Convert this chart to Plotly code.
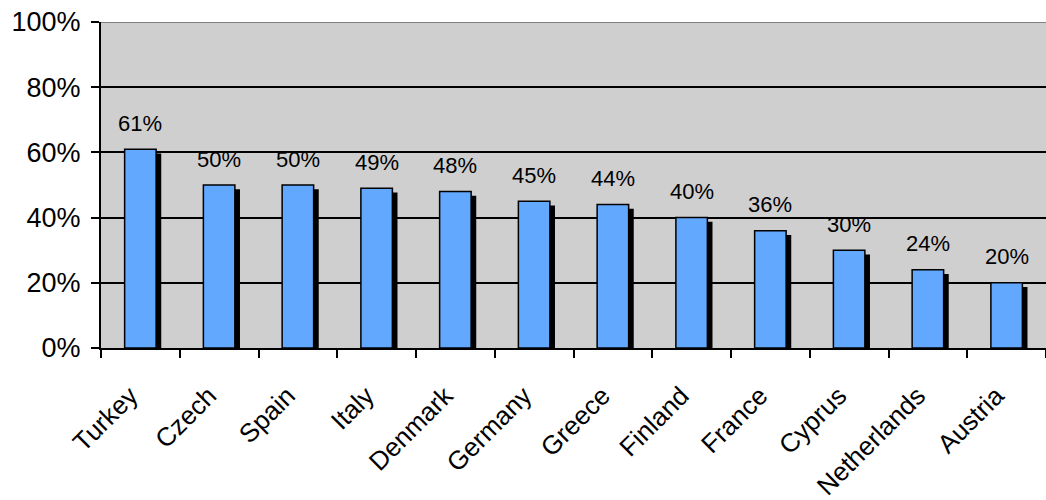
import plotly.graph_objects as go

countries = ["Turkey", "Czech", "Spain", "Italy", "Denmark", "Germany",
             "Greece", "Finland", "France", "Cyprus", "Netherlands", "Austria"]
shares = [61, 50, 50, 49, 48, 45, 44, 40, 36, 30, 24, 20]
y_ticks = [0, 20, 40, 60, 80, 100]

FONT = "Liberation Sans, Arial, sans-serif"
BAR_W = 0.4
SHADOW_DX = 0.065   # horizontal shift of the drop shadow (category units)
SHADOW_DY = 1.3     # vertical drop of the shadow (percentage points)

fig = go.Figure()

# drop shadow behind each bar
fig.add_trace(go.Bar(
    x=countries, y=[v - SHADOW_DY for v in shares],
    width=BAR_W, offset=-BAR_W / 2 + SHADOW_DX,
    marker=dict(color="black", line=dict(width=0)),
    hoverinfo="skip", showlegend=False,
))

# main bars
fig.add_trace(go.Bar(
    x=countries, y=shares,
    width=BAR_W, offset=-BAR_W / 2,
    marker=dict(color="#62a8ff", line=dict(color="black", width=1.5)),
    showlegend=False,
))

# value labels above the bars
for c, v in zip(countries, shares):
    fig.add_annotation(x=c, y=v, text=f"{v}%", showarrow=False,
                       yanchor="middle", yshift=26,
                       font=dict(family=FONT, size=22, color="black"))

fig.update_layout(
    width=1046, height=500,
    margin=dict(l=101, r=0, t=22, b=152),
    paper_bgcolor="white", plot_bgcolor="#cfcfcf",
    barmode="overlay",
    font=dict(family=FONT, color="black"),
    xaxis=dict(
        type="category", tickson="boundaries",
        tickvals=countries,
        # trailing padding nudges the slanted labels down-left of the bar centre
        ticktext=[c + "\u00a0\u00a0" for c in countries],
        ticks="outside", ticklen=8, tickwidth=1.5, tickcolor="black",
        tickangle=-45, tickfont=dict(size=26), ticklabelstandoff=10,
        showline=True, linecolor="black", linewidth=2,
        showgrid=False, range=[-0.5, len(countries) - 0.5],
    ),
    yaxis=dict(
        range=[0, 100], tickvals=y_ticks,
        ticktext=[f"{t}%" for t in y_ticks],
        ticks="outside", ticklen=8, tickwidth=1.5, tickcolor="black",
        tickfont=dict(size=27), ticklabelstandoff=5,
        showline=True, linecolor="black", linewidth=2,
        showgrid=True, gridcolor="black", gridwidth=1.5,
        zeroline=False,
    ),
)

# grey frame edge along the top of the plot area
fig.add_shape(type="line", xref="paper", yref="y", x0=0, x1=1, y0=100, y1=100,
              line=dict(color="#808080", width=2))

fig.write_html("out.html")
